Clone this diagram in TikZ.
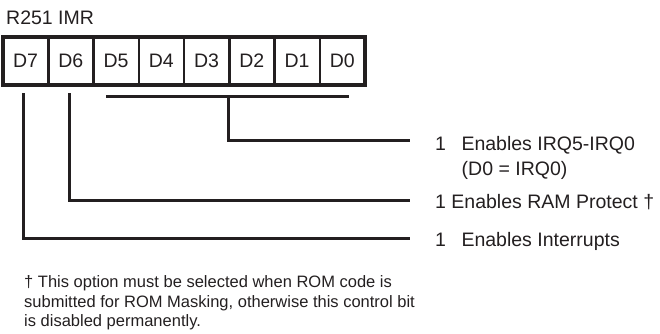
\documentclass[tikz,border=0pt]{standalone}
\usepackage{fontspec}
\setmainfont{Liberation Sans}
\definecolor{ink}{RGB}{35,31,32}
\begin{document}
\begin{tikzpicture}[x=1pt,y=-1pt,
  cell/.style={draw=ink,line width=2.5pt,minimum width=45.25pt,minimum height=48.5pt,
    inner sep=0pt,outer sep=0pt,font=\fontsize{19.5}{24}\selectfont,text=ink},
  lbl/.style={anchor=base west,inner sep=0pt,font=\fontsize{19.5}{24}\selectfont,text=ink},
  note/.style={anchor=base west,inner sep=0pt,font=\fontsize{16.5}{19.5}\selectfont,text=ink},
  wire/.style={draw=ink,line width=3pt},
  frame/.style={draw=ink,line width=4pt}]
\useasboundingbox (0,0) rectangle (660,333);
% title
\node[lbl] (title) at (6,24) {R251 IMR};
% register cells
\node[cell] (c7) at (25.625,60.75) {D7};
\node[cell] (c6) at (70.875,60.75) {D6};
\node[cell] (c5) at (116.125,60.75) {D5};
\node[cell] (c4) at (161.375,60.75) {D4};
\node[cell] (c3) at (206.625,60.75) {D3};
\node[cell] (c2) at (251.875,60.75) {D2};
\node[cell] (c1) at (297.125,60.75) {D1};
\node[cell] (c0) at (342.375,60.75) {D0};
\draw[frame] (c7.north west) rectangle (c0.south east);
% labels
\node[lbl] (l1) at (435,150) {1\hspace{15.5pt}Enables IRQ5-IRQ0};
\node[lbl] (l1b) at (461.5,175) {(D0 = IRQ0)};
\node[lbl] (l2) at (435,208.5) {1 Enables RAM Protect †};
\node[lbl] (l3) at (435,246.5) {1\hspace{15.5pt}Enables Interrupts};
% footnote
\node[note] (f1) at (24,287.5) {† This option must be selected when ROM code is};
\node[note] (f2) at (24,307) {submitted for ROM Masking, otherwise this control bit};
\node[note] (f3) at (24,326.5) {is disabled permanently.};
% connector coordinates
\coordinate (b7) at (23.3,93);
\coordinate (b6) at (69.3,93);
\coordinate (gl) at (106,96);
\coordinate (gr) at (349,96);
\coordinate (gm) at (228,96);
\coordinate (e1) at (410,140);
\coordinate (e2) at (410,200);
\coordinate (e3) at (410,238);
% connectors
\draw[wire] (gl) -- (gr);
\draw[wire] (gm) |- (e1);
\draw[wire] (b6) |- (e2);
\draw[wire] (b7) |- (e3);
\end{tikzpicture}
\end{document}
